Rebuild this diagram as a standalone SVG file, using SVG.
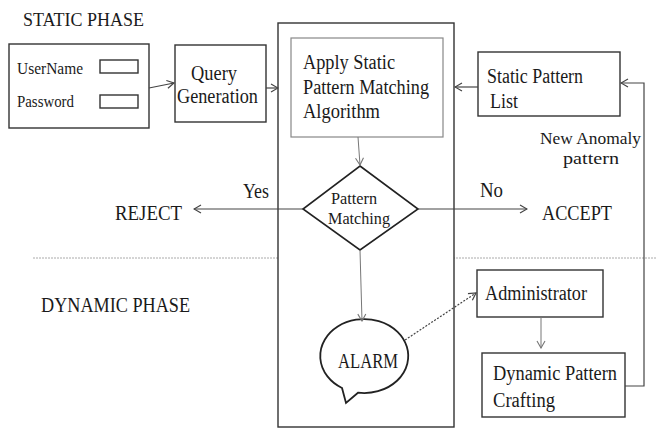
<svg xmlns="http://www.w3.org/2000/svg" width="657" height="429" viewBox="0 0 657 429">
<style>
text{font-family:"Liberation Serif","Times New Roman",serif;font-size:20px;fill:#1a1a1a}
.box{fill:#fff;stroke:#333;stroke-width:1.4}
.lt{fill:#fff;stroke:#888;stroke-width:1.2}
.cn{fill:none;stroke:#444;stroke-width:1.2}
.gy{fill:none;stroke:#777;stroke-width:1}
.sm{font-size:16px}
.dm{font-size:17px}
.na{font-size:17px}
</style>
<defs>
<marker id="ah" markerWidth="9" markerHeight="10" refX="8" refY="5" orient="auto" markerUnits="userSpaceOnUse">
<path d="M1,1 L8,5 L1,9" fill="none" stroke="#444" stroke-width="1.2"/>
</marker>
<marker id="ahg" markerWidth="9" markerHeight="10" refX="8" refY="5" orient="auto" markerUnits="userSpaceOnUse">
<path d="M1,1 L8,5 L1,9" fill="none" stroke="#777" stroke-width="1.1"/>
</marker>
</defs>
<rect width="657" height="429" fill="#fff"/>
<text x="23" y="26" style="font-size:18.5px" textLength="121" lengthAdjust="spacingAndGlyphs">STATIC PHASE</text>
<text x="41" y="312" textLength="149" lengthAdjust="spacingAndGlyphs">DYNAMIC PHASE</text>
<line x1="33" y1="258" x2="657" y2="258" stroke="#aaa" stroke-width="1" stroke-dasharray="2,1"/>
<g id="container"><rect x="278" y="23" width="176" height="404" class="box"/></g>
<g id="login">
<rect x="9" y="44" width="140" height="84" class="box"/>
<text x="17" y="74" class="sm" textLength="66" lengthAdjust="spacingAndGlyphs">UserName</text>
<rect x="100" y="60" width="38" height="13" class="box" stroke-width="1.2"/>
<text x="17" y="107" class="sm" textLength="57" lengthAdjust="spacingAndGlyphs">Password</text>
<rect x="100" y="95" width="38" height="13" class="box" stroke-width="1.2"/>
</g>
<g id="query">
<rect x="175" y="45" width="91" height="77" class="box"/>
<text x="191" y="80" textLength="46" lengthAdjust="spacingAndGlyphs">Query</text>
<text x="177" y="103" textLength="81" lengthAdjust="spacingAndGlyphs">Generation</text>
</g>
<g id="apply">
<rect x="291" y="38" width="152" height="99" class="lt"/>
<text x="303" y="69" textLength="92" lengthAdjust="spacingAndGlyphs">Apply Static</text>
<text x="303" y="94" textLength="126" lengthAdjust="spacingAndGlyphs">Pattern Matching</text>
<text x="303" y="118" textLength="77" lengthAdjust="spacingAndGlyphs">Algorithm</text>
</g>
<g id="staticlist">
<rect x="478" y="52" width="142" height="64" class="box"/>
<text x="487" y="83" textLength="96" lengthAdjust="spacingAndGlyphs">Static Pattern</text>
<text x="490" y="108" textLength="28" lengthAdjust="spacingAndGlyphs">List</text>
</g>
<g id="decision">
<polygon points="360,166 418,209 360,250 303,209" fill="#fff" stroke="#222" stroke-width="1.6"/>
<text x="331" y="204" class="dm" textLength="46" lengthAdjust="spacingAndGlyphs">Pattern</text>
<text x="328" y="224" class="dm" textLength="62" lengthAdjust="spacingAndGlyphs">Matching</text>
</g>
<g id="reject"><text x="115" y="220" textLength="67" lengthAdjust="spacingAndGlyphs">REJECT</text></g>
<g id="accept"><text x="542" y="220" textLength="70" lengthAdjust="spacingAndGlyphs">ACCEPT</text></g>
<g id="alarm">
<path d="M342,388 A44,37 0 1 1 358,392.7 L346,403 Z" fill="#fff" stroke="#222" stroke-width="1.8"/>
<text x="338" y="368" textLength="60" lengthAdjust="spacingAndGlyphs">ALARM</text>
</g>
<g id="admin">
<rect x="477" y="270" width="126" height="47" class="box"/>
<text x="485" y="300" textLength="102" lengthAdjust="spacingAndGlyphs">Administrator</text>
</g>
<g id="dynamic">
<rect x="482" y="353" width="143" height="64" class="box"/>
<text x="493" y="380" textLength="124" lengthAdjust="spacingAndGlyphs">Dynamic Pattern</text>
<text x="493" y="407" textLength="62" lengthAdjust="spacingAndGlyphs">Crafting</text>
</g>
<g id="connectors">
<line x1="149" y1="88" x2="174" y2="83" class="cn" marker-end="url(#ah)"/>
<line x1="266" y1="88" x2="278" y2="88" class="cn" marker-end="url(#ah)"/>
<line x1="478" y1="87" x2="455" y2="87" class="cn" marker-end="url(#ah)"/>
<polyline points="625,386 644,386 644,83 621,83" class="cn" marker-end="url(#ah)"/>
<line x1="358" y1="137" x2="360" y2="165" class="gy" marker-end="url(#ahg)"/>
<line x1="303" y1="209" x2="194" y2="209" class="cn" marker-end="url(#ah)"/>
<line x1="418" y1="209" x2="527" y2="209" class="cn" marker-end="url(#ah)"/>
<line x1="360" y1="250" x2="362" y2="321" class="gy" marker-end="url(#ahg)"/>
<line x1="405" y1="340" x2="476" y2="293" class="cn" stroke-dasharray="2,1.5" marker-end="url(#ah)"/>
<line x1="541" y1="317" x2="541" y2="348" class="gy" marker-end="url(#ahg)"/>
<text x="243" y="198" textLength="26" lengthAdjust="spacingAndGlyphs">Yes</text>
<text x="480" y="197" textLength="23" lengthAdjust="spacingAndGlyphs">No</text>
<text x="540" y="144" class="na" textLength="101" lengthAdjust="spacingAndGlyphs">New Anomaly</text>
<text x="563" y="164" class="na" textLength="56" lengthAdjust="spacingAndGlyphs">pattern</text>
</g>
</svg>
